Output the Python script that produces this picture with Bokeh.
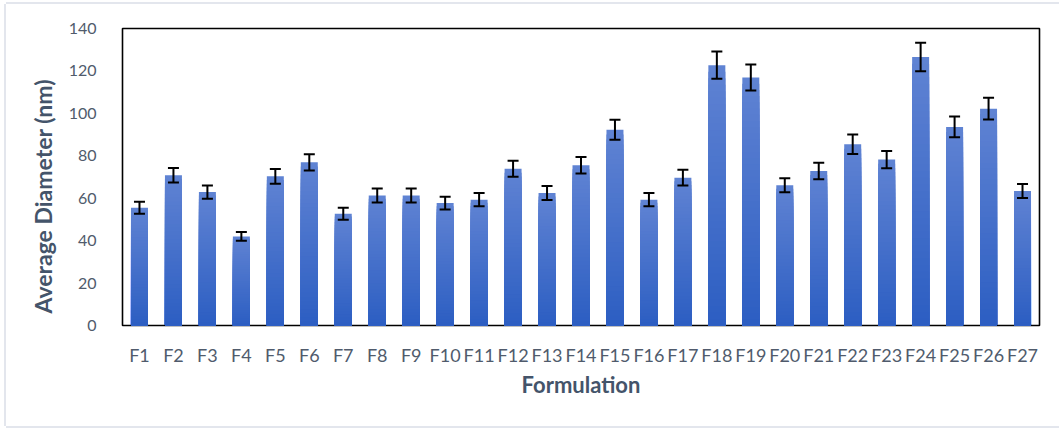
from bokeh.plotting import figure
from bokeh.models import (ColumnDataSource, FactorRange, Range1d, Whisker, TeeHead,
                          FixedTicker, Title)
from bokeh.embed import file_html
from bokeh.resources import INLINE

# Formulations and measured mean particle size with standard deviation
formulations = ["F%d" % i for i in range(1, 28)]
diameter = [55.5, 70.8, 62.9, 42.0, 70.3, 76.9, 52.7, 61.3, 61.3, 57.7,
            59.3, 73.9, 62.4, 75.5, 92.3, 59.3, 69.7, 122.7, 116.9, 66.1,
            72.8, 85.4, 78.2, 126.6, 93.6, 102.2, 63.4]
std_dev = [2.8, 3.4, 3.1, 2.1, 3.5, 3.8, 2.8, 3.3, 3.3, 3.0,
           3.1, 3.8, 3.3, 3.9, 4.7, 3.1, 3.7, 6.4, 6.1, 3.3,
           3.9, 4.6, 4.1, 6.7, 4.9, 5.1, 3.3]
y_ticks = [0, 20, 40, 60, 80, 100, 120, 140]

W, H = 1053, 422
p = figure(width=W, height=H, x_range=FactorRange(*formulations, range_padding=0),
           y_range=Range1d(0, 140), output_backend="svg", toolbar_location=None,
           min_border_left=116, min_border_right=20, min_border_top=24,
           min_border_bottom=101)
# thin light rule along the left, top and bottom of the chart area
edge = "#e3e6ed"
p.styles = {"margin-left": "6px", "margin-top": "4px",
            "box-shadow": (f"-2px 0 0 0 {edge}, 0 -2px 0 0 {edge}, "
                           f"0 2px 0 0 {edge}, 2px 0 0 0 white")}
p.background_fill_color = "white"
p.border_fill_color = "white"
p.outline_line_color = "black"
p.outline_line_width = 1.6
p.xgrid.grid_line_color = None
p.ygrid.grid_line_color = None

# Vertical gradient inside each bar: lighter at the top, deeper blue at the base.
# Overlapping rectangles, tallest first, so no seams show between bands.
top_rgb = (96, 131, 211)
bot_rgb = (44, 94, 194)
N = 40
xs, tops, cols = [], [], []
for k in reversed(range(N)):
    t = (k + 0.5) / N
    r, g, b = (round(bot_rgb[i] + (top_rgb[i] - bot_rgb[i]) * t) for i in range(3))
    for name, val in zip(formulations, diameter):
        xs.append(name)
        tops.append(val * (k + 1) / N)
        cols.append("#%02x%02x%02x" % (r, g, b))
seg = ColumnDataSource(dict(x=xs, top=tops, color=cols))
p.vbar(x="x", bottom=0, top="top", width=0.5, source=seg,
       fill_color="color", line_color=None)

err = ColumnDataSource(dict(x=formulations,
                            upper=[v + e for v, e in zip(diameter, std_dev)],
                            lower=[v - e for v, e in zip(diameter, std_dev)]))
p.add_layout(Whisker(source=err, base="x", upper="upper", lower="lower",
                     level="overlay", line_color="black", line_width=2,
                     upper_head=TeeHead(size=11, line_width=2, line_color="black"),
                     lower_head=TeeHead(size=11, line_width=2, line_color="black")))

tick_color = "#505b6c"
for ax in (p.xaxis[0], p.yaxis[0]):
    ax.axis_line_color = None
    ax.major_tick_line_color = None
    ax.minor_tick_line_color = None
    ax.major_label_text_font = "Lato"
    ax.major_label_text_color = tick_color
    ax.axis_label_text_font = "Lato"
    ax.axis_label_text_font_style = "bold"
    ax.axis_label_text_color = "#44546a"
    ax.axis_label_text_font_size = "22px"

p.yaxis.ticker = FixedTicker(ticks=y_ticks)
p.yaxis.major_label_text_font_size = "16px"
p.yaxis.major_label_standoff = 20
p.xaxis.major_label_text_font_size = "18px"
p.xaxis.major_label_standoff = 12
p.xaxis.axis_label = "Formulation"
p.xaxis.axis_label_standoff = 2

# y title, starting just above the frame's lower edge
p.add_layout(Title(text="Average Diameter (nm)", align="left", offset=12, standoff=18,
                   text_font="Lato", text_font_style="bold", text_font_size="23px",
                   text_color="#44546a"), "left")

open("out.html", "w").write(file_html(p, INLINE))
